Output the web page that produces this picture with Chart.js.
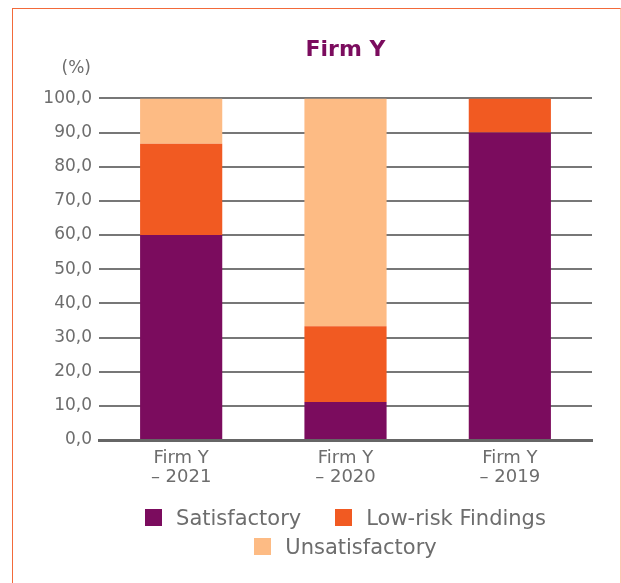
<!DOCTYPE html>
<html>
<head>
<meta charset="utf-8">
<title>Firm Y</title>
<script src="https://cdn.jsdelivr.net/npm/chart.js@4.4.1/dist/chart.umd.min.js"></script>
<style>
  html, body { margin: 0; padding: 0; background: #fff; }
  #wrap { position: relative; width: 621px; height: 583px; overflow: hidden; }
  #frame { position: absolute; left: 12px; top: 8px; width: 607px; height: 620px; border: 1px solid #f26a3a; border-right-color: #fcc9b2; pointer-events: none; }
  #chart { position: absolute; left: 0; top: 0; }
  #legend { position: absolute; left: 99px; top: 503px; width: 493px; display: flex; flex-wrap: wrap; justify-content: center; column-gap: 34px; }
  #legend .item { display: flex; align-items: center; height: 29px; font: 21px "DejaVu Sans", sans-serif; color: #6d6d6d; white-space: nowrap; }
  #legend .box { width: 17px; height: 17px; margin-right: 14px; }
</style>
</head>
<body>
<div id="wrap">
  <canvas id="chart" width="621" height="583"></canvas>
  <div id="legend"></div>
  <div id="frame"></div>
</div>
<script>
// data
const categories = [['Firm Y', '– 2021'], ['Firm Y', '– 2020'], ['Firm Y', '– 2019']];
const satisfactory = [60, 11.1, 90];
const lowRisk = [26.7, 22.2, 10];
const unsatisfactory = [13.3, 66.7, 0];

const FONT = '"DejaVu Sans", sans-serif';
const GREY = '#6d6d6d';

// "(%)" unit label above the y axis
const unitLabel = {
  id: 'unitLabel',
  afterDraw(chart) {
    const y = chart.scales.y;
    const ctx = chart.ctx;
    ctx.save();
    ctx.font = '17px ' + FONT;
    ctx.fillStyle = GREY;
    ctx.textAlign = 'right';
    ctx.textBaseline = 'middle';
    ctx.fillText('(%)', y.right - 8, chart.chartArea.top - 30);
    ctx.restore();
  }
};

// legend built as html so the items wrap like the original
const htmlLegend = {
  id: 'htmlLegend',
  afterUpdate(chart) {
    const box = document.getElementById('legend');
    box.innerHTML = '';
    const items = chart.options.plugins.legend.labels.generateLabels(chart);
    items.forEach((it) => {
      const el = document.createElement('div');
      el.className = 'item';
      const sw = document.createElement('span');
      sw.className = 'box';
      sw.style.background = it.fillStyle;
      const txt = document.createElement('span');
      txt.textContent = it.text;
      el.appendChild(sw);
      el.appendChild(txt);
      box.appendChild(el);
    });
  }
};

new Chart(document.getElementById('chart'), {
  type: 'bar',
  data: {
    labels: categories,
    datasets: [
      { label: 'Satisfactory', data: satisfactory, backgroundColor: '#7b0c5e' },
      { label: 'Low-risk Findings', data: lowRisk, backgroundColor: '#f15a22' },
      { label: 'Unsatisfactory', data: unsatisfactory, backgroundColor: '#fdbb84' },
    ],
  },
  options: {
    responsive: false,
    animation: false,
    layout: { padding: { left: 39, right: 29, top: 37, bottom: 95 } },
    datasets: { bar: { barPercentage: 0.5, categoryPercentage: 1, borderWidth: 0 } },
    plugins: {
      legend: { display: false },
      tooltip: { enabled: false },
      title: {
        display: true,
        text: 'Firm Y',
        color: '#7b0c5e',
        fullSize: false,
        font: { family: FONT, size: 22, weight: 'bold' },
        padding: { top: 0, bottom: 35 },
      },
    },
    scales: {
      x: {
        stacked: true,
        grid: { display: false, drawTicks: false },
        border: { display: true, width: 3, color: '#666' },
        ticks: { color: GREY, padding: 8, font: { family: FONT, size: 18, lineHeight: 1.1 } },
        afterFit: (s) => { s.height = 48; },
      },
      y: {
        stacked: true,
        min: 0,
        max: 100,
        grid: { color: '#777', lineWidth: 2, drawTicks: false },
        border: { display: false },
        ticks: {
          stepSize: 10,
          color: GREY,
          padding: 7,
          font: { family: FONT, size: 17 },
          callback: (v) => v.toFixed(1).replace('.', ','),
        },
        afterFit: (s) => { s.width = 60; },
      },
    },
  },
  plugins: [unitLabel, htmlLegend],
});
</script>
</body>
</html>
